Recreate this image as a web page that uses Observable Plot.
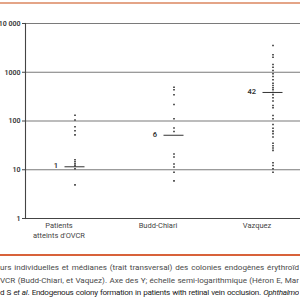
<!DOCTYPE html>
<html><head><meta charset="utf-8">
<script src="https://cdn.jsdelivr.net/npm/d3@7"></script>
<script src="https://cdn.jsdelivr.net/npm/@observablehq/plot@0.6"></script>
<style>
html,body{margin:0;padding:0;background:#fff;width:300px;height:300px;overflow:hidden;position:relative;font-family:Roboto,"DejaVu Sans",sans-serif}
#topline{position:absolute;left:0;top:2px;width:300px;height:2px;background:#e4a487}
#chart{position:absolute;left:0;top:0;width:322px}
#chart svg{max-width:none!important;height:250px}
#botline{position:absolute;left:0;top:254px;width:300px;height:1.5px;background:#d8623a}
#cap{position:absolute;left:0;top:261px;width:299px;font-size:8.1px;line-height:12.6px;color:#4a4a4a}
#cap div{width:299px;height:12.6px;text-align:justify;text-align-last:justify;overflow:hidden}
#cap .l3{color:#222;letter-spacing:-0.3px}
</style></head><body>
<div id="topline"></div>
<div id="chart"></div>
<div id="botline"></div>
<div id="cap">
<div>urs individuelles et médianes (trait transversal) des colonies endogènes érythroïd</div>
<div>VCR (Budd-Chiari, et Vaquez). Axe des Y; échelle semi-logarithmique (Héron E, Mar</div>
<div class="l3">d S <i>et al</i>. Endogenous colony formation in patients with retinal vein occlusion. <i>Ophthalmo</i></div>
</div>
<script>
const categories = ["Patients\natteints d'OVCR", "Budd-Chiari", "Vazquez"];
const patientsValues = [131, 105, 76, 63, 52, 16, 14.6, 13.2, 12, 10.5, 4.9];
const buddChiariValues = [493, 437, 345, 218, 111, 72, 61, 21, 18.3, 13.1, 11.4, 8.9, 5.9];
const vazquezValues = [3540, 2280, 2036, 1443, 1270, 1087, 929, 818, 700, 596, 535, 480, 437, 385, 345, 299, 257, 208, 187, 130, 111, 85, 71, 62, 55, 47, 35, 31, 28, 25, 13.9, 12.2, 10.5, 8.9];
const medians = [11.5, 51, 385];
const medianLabels = ["1", "6", "42"];
const yTicks = [1, 10, 100, 1000, 10000];

const seriesValues = [patientsValues, buddChiariValues, vazquezValues];
const points = seriesValues.flatMap((vals, i) => vals.map(v => ({cat: categories[i], v})));
const med = categories.map((c, i) => ({cat: c, v: medians[i], label: medianLabels[i]}));

const fmt = d => d >= 10000 ? d3.format(",")(d).replace(",", " ") : String(d);

const chart = Plot.plot({
  width: 322,
  height: 250,
  marginLeft: 25,
  marginRight: 0,
  marginTop: 23,
  marginBottom: 32,
  style: {fontFamily: "Roboto, sans-serif", background: "transparent", maxWidth: "none"},
  x: {type: "band", domain: categories, padding: 0, label: null},
  y: {type: "log", domain: [1, 10000], label: null},
  marks: [
    Plot.ruleY(yTicks, {stroke: d => d === 1 ? "#444" : "#7a7a7a", strokeWidth: 1.1}),
    Plot.frame({anchor: "left", stroke: "#444", strokeWidth: 1.1}),
    Plot.axisY({ticks: yTicks, tickFormat: fmt, tickSize: 3, tickPadding: 2, fontSize: 7, fontWeight: 600, fill: "#333", stroke: "#444"}),
    Plot.axisX({tickSize: 0, tickPadding: 3, fontSize: 7.5, fill: "#444", dx: -16, lineHeight: 1.25}),
    Plot.tickY(med, {x: "cat", y: "v", stroke: "#333", strokeWidth: 1, insetLeft: 39.5, insetRight: 39.5}),
    Plot.text(med, {x: "cat", y: "v", text: "label", textAnchor: "end", dx: -17, dy: -1, fontSize: 7.5, fontWeight: 600, fill: "#333"}),
    Plot.dot(points, {x: "cat", y: "v", r: 0.9, fill: "#333", stroke: null, symbol: "square"})
  ]
});
document.getElementById("chart").appendChild(chart);
</script>
</body></html>
